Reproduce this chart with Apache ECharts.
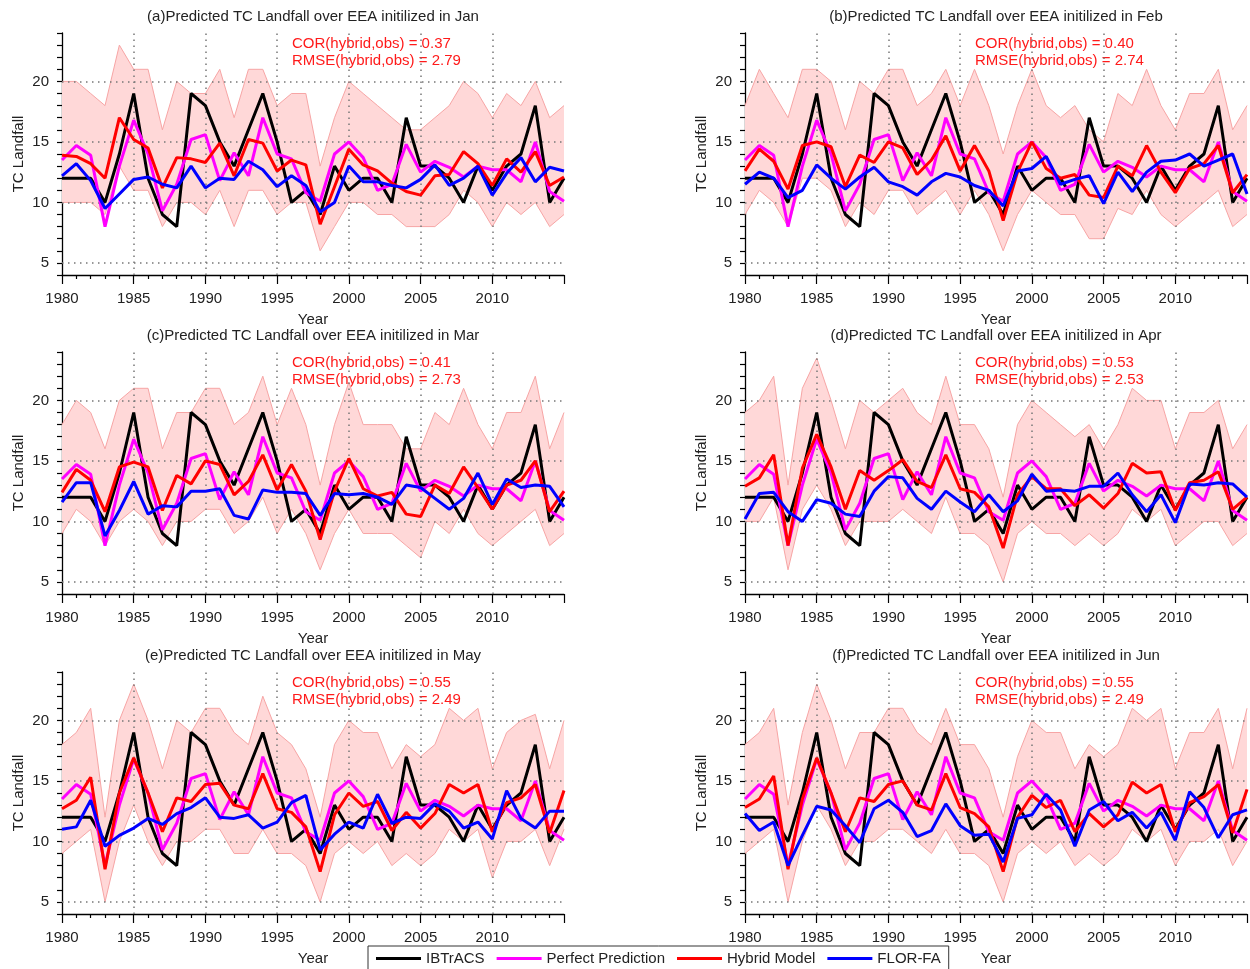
<!DOCTYPE html>
<html>
<head>
<meta charset="utf-8">
<script src="https://cdn.jsdelivr.net/npm/echarts@6.0.0/dist/echarts.min.js"></script>
<style>
  html, body { margin: 0; padding: 0; background: #fff; }
  #chart { width: 1250px; height: 969px; }
</style>
</head>
<body>
<div id="chart"></div>
<script>
// years on the x axis
const years = ['1980','1981','1982','1983','1984','1985','1986','1987','1988','1989','1990','1991','1992','1993','1994','1995','1996','1997',
               '1998','1999','2000','2001','2002','2003','2004','2005','2006','2007','2008','2009','2010','2011','2012','2013','2014','2015'];
const gridYears = ['1985', '1990', '1995', '2000', '2005', '2010'];
const gridCounts = [5, 10, 15, 20];

// observations and perfect prediction (same in every panel)
const ibtracs = [12,12,12,10,14,19,12,9,8,19,18,15,13,16,19,15,10,11,9,13,11,12,12,10,17,13,13,12,10,13,11,13,14,18,10,12];
const perfect = [13.5,14.7,13.9,8,13,16.8,14,9.3,11.5,15.2,15.6,11.8,14.1,12.2,17,14,13.6,10.8,10.1,14,15,13.7,11,11.5,14.8,12.5,13.4,12.9,12.1,13,12.7,12.7,11.7,15,10.9,10.1];

// (a) Jan
const hybridJan = [13.9,13.8,13.2,12,17,15.2,14.5,11.2,13.7,13.6,13.3,14.9,12.2,15.2,14.9,12.6,13.5,13.1,8.2,11.3,14.4,13.1,12.6,11.6,10.9,10.6,12.2,12.3,14.2,13.2,11.4,13.6,12.5,14.2,11.4,12.1];
const florJan   = [12.2,13.2,11.8,9.5,10.7,11.9,12.1,11.5,11.2,13,11.2,12,11.9,13.4,12.7,11.3,12.2,11.4,9.2,10,13,11.7,11.7,11.4,11.2,11.9,13.1,11.4,12,13,10.6,12.4,13.7,11.7,12.9,12.6];
const upperJan  = [20,20,19,18,23,21,21,16,20,19,19,21,17,21,21,18,19,19,13,17,20,19,18,17,16,16,17,18,20,19,17,19,18,20,17,18];
const lowerJan  = [10,10,10,9,13,11,11,8,10,10,9,11,8,11,11,9,10,10,6,8,10,10,9,9,8,8,8,9,11,10,8,10,9,10,8,9];

// (b) Feb
const hybridFeb = [12.6,14.4,13.4,11.1,14.7,15,14.6,11.3,13.9,13.3,15,14.5,12.3,13.5,15.5,12.6,14.7,12.6,8.5,12.5,15,12.8,12,12.3,10.6,10.4,13,12.2,14.7,12.5,10.8,12.8,13.2,14.7,10.8,12.3];
const florFeb   = [11.5,12.5,12,10.4,11,13.1,12,11.1,12.1,12.9,11.7,11.3,10.6,11.7,12.4,12.1,11.4,11,9.7,12.6,12.8,13.8,11.5,11.9,12.2,9.9,12.5,10.9,12.5,13.4,13.5,14,13,13.5,14,10.7];
const upperFeb  = [18,21,19,17,21,21,20,16,20,19,21,21,18,19,21,18,21,18,14,18,21,18,17,18,16,15,19,18,21,18,16,19,19,21,16,18];
const lowerFeb  = [9,11,10,8,12,12,11,8,10,9,11,11,9,10,11,9,11,9,6,9,11,10,9,9,7,7,9.5,9,11,9,8,9,10,11,8,9];

// (c) Mar
const hybridMar = [12.4,14.3,13.4,10.8,14.5,14.9,14.5,10.9,13.8,13.1,15,14.7,12.2,13.3,15.5,12.6,14.7,12.5,8.5,12.5,15.2,12.7,12.1,12.4,10.6,10.4,13,12.3,14.5,12.8,11,13,13.4,15,10.8,12.5];
const florMar   = [11.6,13.2,13.2,8.8,10.9,13.3,10.6,11.3,11.2,12.5,12.5,12.7,10.5,10.2,12.6,12.4,12.4,12.3,10.5,12.3,12.2,12.3,12,11.4,13,12.8,11.9,11,11.9,14,11.4,13.5,12.8,13,12.9,11.2];
const upperMar  = [18,20,19,16,20,21,21,16,19,19,21,21,18,19,22,18,21,18,13,18,21.5,18,18,18,16,16,19,18,21,18,16,19,19,22,16,19];
const lowerMar  = [9,11,10,8,10,11,10,8,10,10,11,11,9,10,12,9,11,9,6,9,11,9,9,9,8,7,10,9,11,9,8,9,10,11,8,9];

// (d) Apr
const hybridApr = [12.9,13.6,15.5,8,14.4,17.2,14.5,11,14.2,13.4,14.2,15.1,13.3,12.8,15.5,12.7,12.4,11.2,7.8,12.2,13.7,12.7,12.7,11.3,12.2,11.1,12.3,14.8,14,14.1,10.9,13.2,13.4,14.1,11,12];
const florApr   = [10.2,12.3,12.4,10.8,10,11.8,11.5,10.6,10.4,12.5,13.7,13.6,11.9,11,12.5,11.6,10.8,12.2,10.8,11.7,13.9,12.5,12.6,12.5,12.9,12.9,14,12.2,10.8,12.2,9.9,13.1,13,13.2,13.1,12];
const upperApr  = [19,20,22,13,21,23.5,20,16,20,19,20,21,19,18,22,18,18,16,12,18,20,19,18,17,18,16,18,21,20,20,16,19,19,20,16,18];
const lowerApr  = [10,10,12,6,11,13,11,8,10,10,10,11,10,9,12,9,9,8,5,9,10,9,9,8,9,8,9,11,10,11,8,9,10,10,8,9];

// (e) May
const hybridMay = [12.7,13.4,15.3,7.7,14,16.9,14,10.8,13.6,13.3,14.7,14.8,13,12.7,15.6,12.7,12.4,11.2,7.5,12.2,14,12.9,13.3,10.9,12.4,11.1,12.3,14.7,14,14.7,10.8,13.2,13.6,14.7,10.7,14.2];
const florMay   = [11,11.2,13.4,9.6,10.5,11.1,11.9,11.4,12.3,12.8,13.6,12,11.9,12.2,11.1,11.6,13.2,13.8,9.3,10.6,11.6,11.1,13.9,11.5,12,11.9,13.1,12.5,11.1,11.6,10.2,14.2,11.9,11.1,12.5,12.5];
const upperMay  = [18,19,21,12,20,23,20,16,20,19,21,21,19,18,22,19,18,16,12,18,20,19,19,16,18,17,18,21,20,21,16,19,20,20.5,16,20];
const lowerMay  = [9,10,11,5,10,13,10,8,10,10,11,11,9,9,11,9,9,8,5,9,10,9,10,8,9,8,9,11,10,11,7,10,10,11,8,11];

// (f) Jun
const hybridJun = [12.8,13.5,15.4,7.7,13.5,16.9,14,10.8,13.6,13.3,14.7,15,13,12.6,15.6,12.8,12.3,11.2,7.5,12,13.8,12.8,13.4,10.8,12.3,11.2,12.2,14.9,14,14.7,10.8,13.2,13.7,14.7,10.7,14.3];
const florJun   = [12.3,10.9,11.6,8,10.5,12.9,12.6,11.3,9.9,12.7,13.4,12.4,10.4,10.9,13.1,11.3,10.5,10.6,8.3,11.9,12.2,13.9,12.6,9.6,12.6,13.3,11.7,12.4,11.1,12.4,10.1,14.1,12.8,10.3,12.2,12.6];
const upperJun  = [18,19,21,13,19,23,20,16,19,19,21,21,19,18,21,18,18,16,12,17,20,19,19,16,18,17,18,21,20,21,16,19,19,21,16,21];
const lowerJun  = [9,10,11,5,10,13,11,8,10,10,11,11,10,9,11,9,9,8,5,9,10,9,10,8,9,8,9,11,10,11,8,10,10,11,8,10];

const tags   = ['a', 'b', 'c', 'd', 'e', 'f'];
const months = ['Jan', 'Feb', 'Mar', 'Apr', 'May', 'Jun'];
const cors   = ['0.37', '0.40', '0.41', '0.53', '0.55', '0.55'];
const rmses  = ['2.79', '2.74', '2.73', '2.53', '2.49', '2.49'];
const hybrids = [hybridJan, hybridFeb, hybridMar, hybridApr, hybridMay, hybridJun];
const flors   = [florJan, florFeb, florMar, florApr, florMay, florJun];
const uppers  = [upperJan, upperFeb, upperMar, upperApr, upperMay, upperJun];
const lowers  = [lowerJan, lowerFeb, lowerMar, lowerApr, lowerMay, lowerJun];

const FONT = "'Liberation Sans', Arial, Helvetica, sans-serif";
const colLeft = [62, 745];
const rowTop = [33, 352, 672];
const plotW = 502, plotH = 242;

const mychart = echarts.init(document.getElementById('chart'));

let grid = [], xAxis = [], yAxis = [], series = [], graphic = [];

for (let i = 0; i < 6; i++) {
    const left = colLeft[i % 2];
    const top = rowTop[Math.floor(i / 2)];
    grid.push({ left: left, top: top, width: plotW, height: plotH });

    // visible year axis (ticks + labels)
    xAxis.push({
        type: 'value', gridIndex: i, min: 1980, max: 2015, interval: 5,
        name: 'Year', nameLocation: 'middle', nameGap: 37,
        nameTextStyle: { fontSize: 15, color: '#222', fontFamily: FONT },
        axisLine: { lineStyle: { color: '#000', width: 1.3 } },
        axisTick: { length: 9, lineStyle: { color: '#000', width: 1.2 } },
        minorTick: { show: true, splitNumber: 5, length: 4, lineStyle: { color: '#000', width: 1.2 } },
        axisLabel: { fontSize: 15, color: '#222', fontFamily: FONT, margin: 16,
                     formatter: v => (v === 2015 ? '' : String(v)) },
        splitLine: { show: false }
    });
    // hidden category axis carrying the series
    xAxis.push({
        type: 'category', gridIndex: i, data: years, boundaryGap: false, show: false
    });
    yAxis.push({
        type: 'value', gridIndex: i, min: 4, max: 24, interval: 1,
        name: 'TC Landfall', nameLocation: 'middle', nameGap: 36,
        nameTextStyle: { fontSize: 15, color: '#222', fontFamily: FONT },
        axisLine: { show: true, lineStyle: { color: '#000', width: 1.3 } },
        axisTick: { length: 5, lineStyle: { color: '#000', width: 1.2 } },
        axisLabel: { fontSize: 15, color: '#222', fontFamily: FONT, margin: 13,
                     formatter: v => (v % 5 === 0 ? String(v) : '') },
        splitLine: { show: false }
    });

    const xi = 2 * i + 1;
    // spread band: lower edge + (upper - lower) stacked on it
    series.push({
        name: 'lower' + i, type: 'line', xAxisIndex: xi, yAxisIndex: i, stack: 'band' + i,
        symbol: 'none', silent: true, z: 1,
        lineStyle: { color: '#f7a5a5', width: 1 },
        data: lowers[i],
        markLine: {
            silent: true, symbol: ['none', 'none'], z: 2, animation: false,
            label: { show: false },
            lineStyle: { type: [1.5, 4.5], color: '#777', width: 1.5 },
            data: gridCounts.map(v => ({ yAxis: v })).concat(gridYears.map(v => ({ xAxis: v })))
        }
    });
    series.push({
        name: 'spread' + i, type: 'line', xAxisIndex: xi, yAxisIndex: i, stack: 'band' + i,
        symbol: 'none', silent: true, z: 1,
        lineStyle: { color: '#f7a5a5', width: 1 },
        areaStyle: { color: '#ffd8d8', opacity: 1 },
        data: uppers[i].map((u, k) => u - lowers[i][k])
    });

    const lines = [
        ['IBTrACS', ibtracs, '#000000'],
        ['Perfect Prediction', perfect, '#ff00ff'],
        ['Hybrid Model', hybrids[i], '#ff0000'],
        ['FLOR-FA', flors[i], '#0000ff']
    ];
    lines.forEach(([name, arr, color]) => {
        series.push({
            name: name, type: 'line', xAxisIndex: xi, yAxisIndex: i,
            symbol: 'none', z: 3,
            itemStyle: { color: color },
            lineStyle: { color: color, width: 3 },
            data: arr
        });
    });

    // panel title + scores
    graphic.push({
        type: 'text', x: left + plotW / 2, y: top - 16,
        style: { text: '(' + tags[i] + ')Predicted TC Landfall over EEA initilized in ' + months[i],
                 font: '15px ' + FONT, fill: '#222', textAlign: 'center', textVerticalAlign: 'middle' }
    });
    graphic.push({
        type: 'text', x: left + 230, y: top + 11,
        style: { text: 'COR(hybrid,obs) = ' + cors[i],
                 font: '15px ' + FONT, fill: '#ff1a1a', textAlign: 'left', textVerticalAlign: 'middle' }
    });
    graphic.push({
        type: 'text', x: left + 230, y: top + 28,
        style: { text: 'RMSE(hybrid,obs) = ' + rmses[i],
                 font: '15px ' + FONT, fill: '#ff1a1a', textAlign: 'left', textVerticalAlign: 'middle' }
    });
}

mychart.setOption({
    animation: false,
    backgroundColor: '#fff',
    grid: grid,
    xAxis: xAxis,
    yAxis: yAxis,
    legend: {
        data: ['IBTrACS', 'Perfect Prediction', 'Hybrid Model', 'FLOR-FA'],
        left: 368, top: 946,
        icon: 'rect', itemWidth: 45, itemHeight: 3, itemGap: 12,
        borderColor: '#333', borderWidth: 1, padding: [5, 8],
        textStyle: { fontSize: 15, color: '#222', fontFamily: FONT }
    },
    graphic: graphic,
    series: series
});
</script>
</body>
</html>
